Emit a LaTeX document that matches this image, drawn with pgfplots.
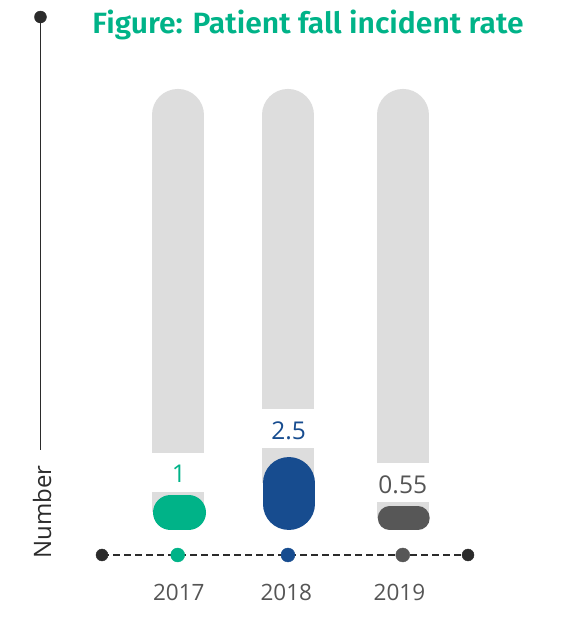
\documentclass[border=0pt]{standalone}
\usepackage{pgfplots}
\pgfplotsset{compat=1.18}
\usepackage{fontspec}
\setmainfont{Open Sans}
\newfontfamily\titlefont{Fira Sans SemiBold}
\definecolor{cgreen}{HTML}{00B388}
\definecolor{cblue}{HTML}{174C8F}
\definecolor{cdark}{HTML}{575757}
\definecolor{clight}{HTML}{DDDDDD}
\definecolor{ctext}{HTML}{555555}
\definecolor{caxis}{HTML}{2B2B2B}
\begin{document}
\begin{tikzpicture}
\path[use as bounding box] (0,0) rectangle (560pt,621pt);
\begin{axis}[
  at={(102pt,66pt)}, anchor=south west,
  scale only axis, width=366pt, height=540pt,
  xmin=-0.673, xmax=2.58, ymin=-1.372, ymax=19.97,
  hide axis, clip=false,
]
% background gray columns (upper part, square bottom)
\addplot[clight, line width=52pt, line cap=butt] coordinates {(0,2.66) (0,16.02)};
\addplot[clight, line width=52pt, line cap=butt] coordinates {(0.98,4.40) (0.98,16.02)};
\addplot[clight, line width=52pt, line cap=butt] coordinates {(2,2.26) (2,16.02)};
% rounded tops
\addplot[clight, line width=52pt, line cap=round] coordinates {(0,15.5) (0,16.02)};
\addplot[clight, line width=52pt, line cap=round] coordinates {(0.98,15.5) (0.98,16.02)};
\addplot[clight, line width=52pt, line cap=round] coordinates {(2,15.5) (2,16.02)};
% lower gray parts
\addplot[clight, line width=52pt, line cap=butt] coordinates {(0,0.31) (0,1.12)};
\addplot[clight, line width=52pt, line cap=butt] coordinates {(0.98,1.47) (0.98,2.86)};
\addplot[clight, line width=52pt, line cap=butt] coordinates {(2,0.08) (2,0.72)};
% value bars (base -0.383): 2017 = 1, 2018 = 2.5, 2019 = 0.55
\addplot[cgreen, line width=35pt, line cap=round] coordinates {(-0.064,0.3085) (0.096,0.3085)};
\addplot[cblue, line width=52pt, line cap=round] coordinates {(0.986,0.645) (0.986,1.472)};
\addplot[cdark, line width=23.6pt, line cap=round] coordinates {(1.883,0.0835) (2.135,0.0835)};
% value labels
\node[anchor=base, text=cgreen, font=\fontsize{24.5}{28}\selectfont] at (axis cs:0.01,1.486) {1};
\node[anchor=base, text=cblue, font=\fontsize{24.5}{28}\selectfont] at (axis cs:0.986,3.20) {2.5};
\node[anchor=base, text=ctext, font=\fontsize{24.5}{28}\selectfont] at (axis cs:2.0,1.04) {0.55};
% bottom dashed axis
\addplot[caxis, line width=2.6pt, dash pattern=on 7pt off 4pt] coordinates {(-0.673,-1.372) (2.58,-1.372)};
\addplot[only marks, mark=*, mark size=6pt, caxis] coordinates {(-0.673,-1.372) (2.58,-1.372)};
\addplot[only marks, mark=*, mark size=7pt, cgreen] coordinates {(0,-1.372)};
\addplot[only marks, mark=*, mark size=7pt, cblue] coordinates {(0.98,-1.372)};
\addplot[only marks, mark=*, mark size=7pt, cdark] coordinates {(2,-1.372)};
% year labels
\node[anchor=base, text=ctext, font=\fontsize{22.5}{26}\selectfont] at (axis cs:0.01,-3.17) {2017};
\node[anchor=base, text=ctext, font=\fontsize{22.5}{26}\selectfont] at (axis cs:0.965,-3.17) {2018};
\node[anchor=base, text=ctext, font=\fontsize{22.5}{26}\selectfont] at (axis cs:1.97,-3.17) {2019};
% vertical axis
\addplot[caxis, line width=1.3pt] coordinates {(-1.22,19.89) (-1.22,2.78)};
\addplot[only marks, mark=*, mark size=6pt, caxis] coordinates {(-1.22,19.89)};
\node[rotate=90, text=caxis, font=\fontsize{24}{28}\selectfont] at (axis cs:-1.206,0.33) {Number};
% title
\node[anchor=base, text=cgreen] at (axis cs:1.158,19.22) {\resizebox*{431pt}{30pt}{\titlefont Figure: Patient fall incident rate}};
\end{axis}
\end{tikzpicture}
\end{document}
